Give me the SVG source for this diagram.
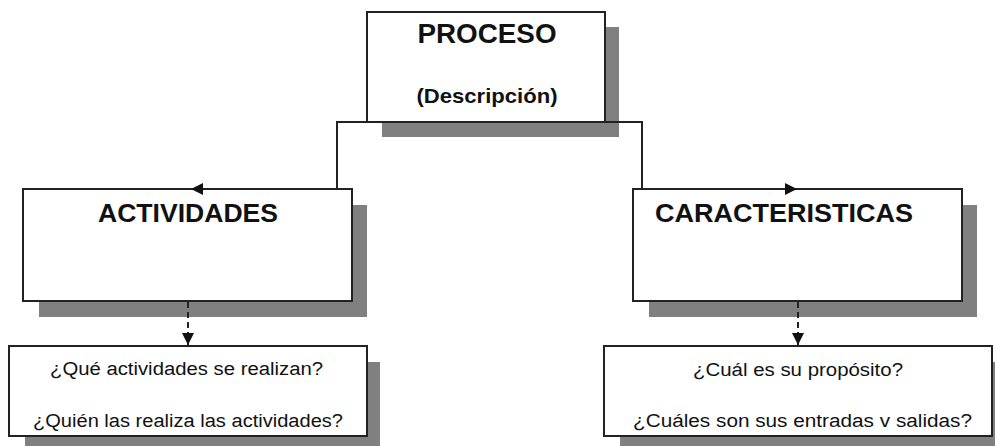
<svg xmlns="http://www.w3.org/2000/svg" width="995" height="446" viewBox="0 0 995 446">
  <style>
    .shadow { fill: #808080; }
    .box { fill: #ffffff; stroke: #222222; stroke-width: 2; }
    .title { font-family: "Liberation Sans", Arial, sans-serif; font-weight: bold; fill: #111111; }
    .q { font-family: "Liberation Sans", Arial, sans-serif; font-size: 18px; fill: #111111; }
    .link { fill: none; stroke: #222222; stroke-width: 2; }
    .dash { fill: none; stroke: #222222; stroke-width: 2; stroke-dasharray: 6 4; }
  </style>
  <defs>
    <marker id="arrow" viewBox="0 0 12 12" refX="12" refY="6" markerWidth="12" markerHeight="12" markerUnits="userSpaceOnUse" orient="auto">
      <path d="M0,0 L12,6 L0,12 Z" fill="#111111"/>
    </marker>
  </defs>
  <rect width="995" height="446" fill="#ffffff"/>

  <g id="proceso">
    <rect class="shadow" x="382" y="27" width="237" height="110"/>
    <rect class="box" x="367" y="12" width="238" height="110"/>
    <text class="title" x="487" y="43" font-size="27" text-anchor="middle" textLength="139" lengthAdjust="spacingAndGlyphs">PROCESO</text>
    <text class="title" x="487" y="103" font-size="21" text-anchor="middle" textLength="141" lengthAdjust="spacingAndGlyphs">(Descripción)</text>
  </g>

  <g id="actividades">
    <rect class="shadow" x="39" y="205" width="328" height="112"/>
    <rect class="box" x="23" y="189" width="329" height="112"/>
    <text class="title" x="188" y="222" font-size="26" text-anchor="middle" textLength="180" lengthAdjust="spacingAndGlyphs">ACTIVIDADES</text>
  </g>

  <g id="caracteristicas">
    <rect class="shadow" x="649" y="205" width="328" height="112"/>
    <rect class="box" x="633" y="189" width="329" height="112"/>
    <text class="title" x="655" y="222" font-size="26" textLength="258" lengthAdjust="spacingAndGlyphs">CARACTERISTICAS</text>
  </g>

  <g id="preguntas-actividades">
    <rect class="shadow" x="25" y="362" width="355" height="90"/>
    <rect class="box" x="9" y="346" width="358" height="90"/>
    <text class="q" x="50" y="375" textLength="273" lengthAdjust="spacingAndGlyphs">¿Qué actividades se realizan?</text>
    <text class="q" x="33" y="427" textLength="310" lengthAdjust="spacingAndGlyphs">¿Quién las realiza las actividades?</text>
  </g>

  <g id="preguntas-caracteristicas">
    <rect class="shadow" x="620" y="362" width="380" height="90"/>
    <rect class="box" x="604" y="346" width="388" height="90"/>
    <text class="q" x="693" y="376" textLength="210" lengthAdjust="spacingAndGlyphs">¿Cuál es su propósito?</text>
    <text class="q" x="633" y="427" textLength="339" lengthAdjust="spacingAndGlyphs">¿Cuáles son sus entradas v salidas?</text>
  </g>

  <g id="connectors">
    <path class="link" d="M337,190 V122 H642 V189"/>
    <path class="link" d="M337,189 H191" marker-end="url(#arrow)"/>
    <path class="link" d="M642,189 H797" marker-end="url(#arrow)"/>
    <path class="dash" d="M188,302 V345" marker-end="url(#arrow)"/>
    <path class="dash" d="M798,302 V345" marker-end="url(#arrow)"/>
  </g>
</svg>
